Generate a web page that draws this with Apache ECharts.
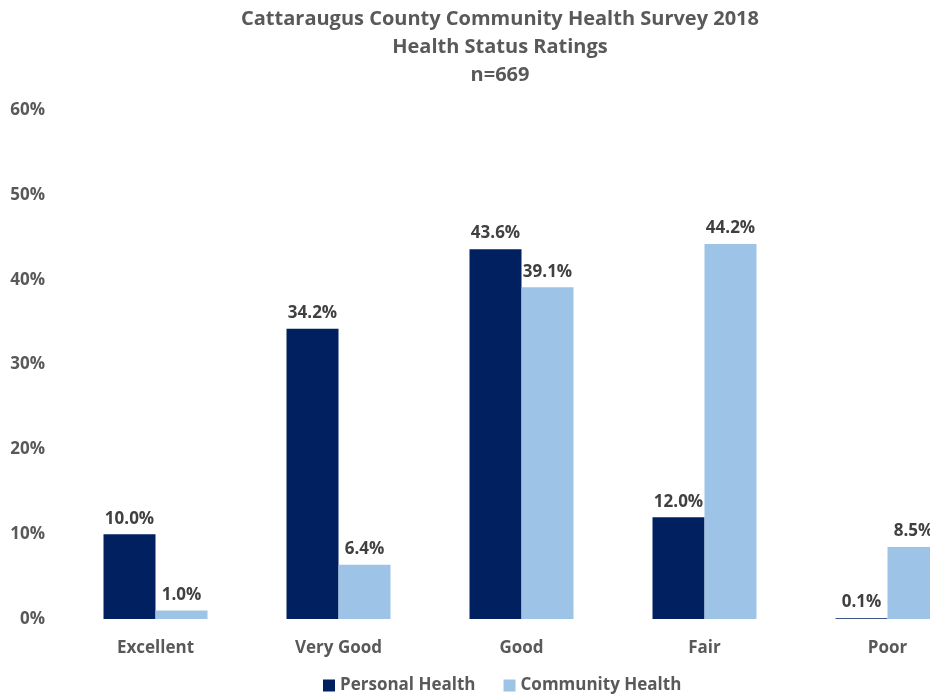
<!DOCTYPE html>
<html>
<head>
<meta charset="utf-8">
<script src="https://cdn.jsdelivr.net/npm/echarts@6/dist/echarts.min.js"></script>
<style>
  html, body { margin: 0; padding: 0; background: #fff; }
  #chart { width: 930px; height: 696px; }
</style>
</head>
<body>
<div id="chart"></div>
<script>
// Survey response categories and the share of respondents for each rating
const categories = ['Excellent', 'Very Good', 'Good', 'Fair', 'Poor'];
const personalHealth = [10.0, 34.2, 43.6, 12.0, 0.1];
const communityHealth = [1.0, 6.4, 39.1, 44.2, 8.5];
const seriesNames = ['Personal Health', 'Community Health'];
const titleLines = ['Cattaraugus County Community Health Survey 2018', 'Health Status Ratings', 'n=669'];

const FONT = '"Open Sans", Lato, sans-serif';
const chart = echarts.init(document.getElementById('chart'), null, { renderer: 'canvas' });

const labelStyle = {
  show: true,
  position: 'top',
  distance: 7,
  color: '#404040',
  fontFamily: FONT,
  fontWeight: 'bold',
  fontSize: 17,
  formatter: p => p.value.toFixed(1) + '%'
};

chart.setOption({
  animation: false,
  backgroundColor: '#ffffff',
  title: {
    text: titleLines.join('\n'),
    left: 495,
    textAlign: 'center',
    top: 0,
    textStyle: {
      color: '#595959',
      fontFamily: FONT,
      fontWeight: 'bold',
      fontSize: 20,
      lineHeight: 28
    }
  },
  legend: {
    data: seriesNames,
    top: 672,
    left: 318,
    itemWidth: 12,
    itemHeight: 12,
    itemGap: 28,
    icon: 'rect',
    textStyle: {
      color: '#595959',
      fontFamily: FONT,
      fontWeight: 'bold',
      fontSize: 17
    }
  },
  // The plot runs past the right edge, so the last bar is clipped
  grid: {
    left: 64,
    width: 915,
    top: 110,
    bottom: 77,
    containLabel: false,
    outerBoundsMode: 'none'
  },
  xAxis: {
    type: 'category',
    data: categories,
    axisLine: { show: false },
    axisTick: { show: false },
    axisLabel: {
      color: '#595959',
      fontFamily: FONT,
      fontWeight: 'bold',
      fontSize: 17,
      margin: 21
    }
  },
  yAxis: {
    type: 'value',
    min: 0,
    max: 60,
    interval: 10,
    splitLine: { show: false },
    axisLine: { show: false },
    axisTick: { show: false },
    axisLabel: {
      color: '#595959',
      fontFamily: FONT,
      fontWeight: 'bold',
      fontSize: 17,
      margin: 19,
      formatter: v => v + '%'
    }
  },
  series: [
    {
      name: seriesNames[0],
      type: 'bar',
      data: personalHealth,
      barWidth: 52,
      barGap: '0%',
      itemStyle: { color: '#002060' },
      label: labelStyle
    },
    {
      name: seriesNames[1],
      type: 'bar',
      data: communityHealth,
      barWidth: 52,
      itemStyle: { color: '#9DC3E6' },
      label: labelStyle
    }
  ]
});
</script>
</body>
</html>
